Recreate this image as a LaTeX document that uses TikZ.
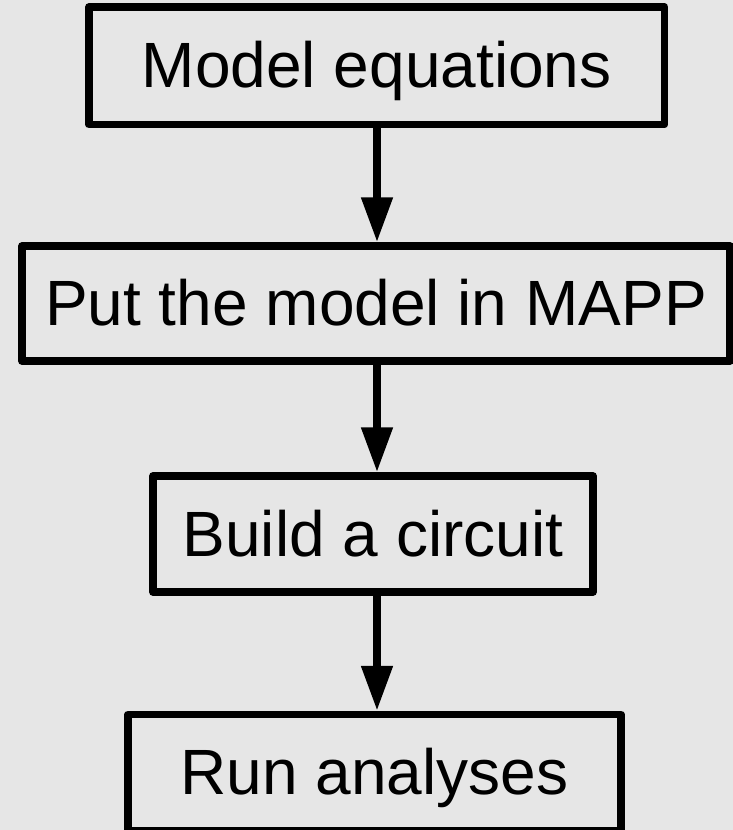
\documentclass[tikz,border=0pt]{standalone}
\usepackage{fontspec}
\setmainfont{Liberation Sans}
\usetikzlibrary{arrows.meta}
\definecolor{bg}{RGB}{230,230,230}
\begin{document}
\begin{tikzpicture}[x=1pt,y=-1pt,
  box/.style={draw=black, line width=7.5pt, line join=round, rectangle, inner sep=0pt,
    text height=50pt, text depth=6pt, font=\fontsize{64}{70}\selectfont},
  arr/.style={line width=8pt, -{Triangle[length=45pt,width=30pt]}}]
  \fill[bg] (0,0) rectangle (733,830);
  \useasboundingbox (0,0) rectangle (733,830);
  \coordinate (ax) at (377,0);
  \node[box, minimum width=575.5pt, minimum height=117.5pt] (b1) at (376.75,65.75) {Model equations};
  \node[box, minimum width=708pt, minimum height=115pt] (b2) at (376,303.5) {Put the model in MAPP};
  \node[box, minimum width=440pt, minimum height=116pt] (b3) at (373,534) {Build a circuit};
  \node[box, minimum width=493pt, minimum height=116.5pt] (b4) at (374.5,772.75) {Run analyses};
  \draw[arr] (b1.south -| ax) -- (b2.north -| ax);
  \draw[arr] (b2.south -| ax) -- (b3.north -| ax);
  \draw[arr] (b3.south -| ax) -- (b4.north -| ax);
\end{tikzpicture}
\end{document}
